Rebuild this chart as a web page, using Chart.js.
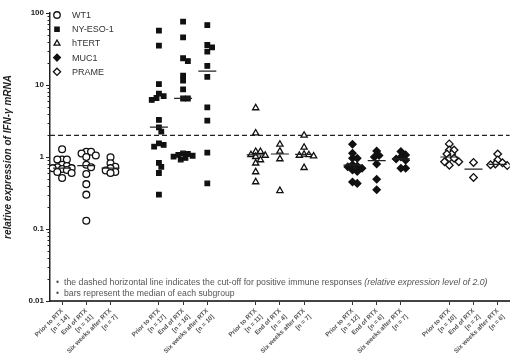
<!DOCTYPE html>
<html><head><meta charset="utf-8">
<script src="https://cdn.jsdelivr.net/npm/chart.js@4"></script>
<style>html,body{margin:0;padding:0;background:#fff}#wrap{width:520px;height:360px;position:relative}</style>
</head><body><div id="wrap"><canvas id="c"></canvas></div>
<script>
const antigens = ['WT1', 'NY-ESO-1', 'hTERT', 'MUC1', 'PRAME'];
const timepoints = ['Prior to RTX', 'End of RTX', 'Six weeks after RTX'];
const groupN = [[14, 11, 7], [17, 16, 10], [11, 4, 7], [12, 6, 7], [10, 2, 6]];
const yTickValues = [0.01, 0.1, 1, 10, 100];
const yTickLabels = ['0.01', '0.1', '1', '10', '100'];
const cutoff = 2.0;

const wt1 = [
  [1.28, 0.92, 0.92, 0.92, 0.78, 0.75, 0.72, 0.70, 0.70, 0.68, 0.66, 0.62, 0.60, 0.51],
  [1.18, 1.18, 1.12, 1.05, 1.0, 0.78, 0.72, 0.58, 0.42, 0.30, 0.13],
  [0.99, 0.82, 0.73, 0.70, 0.65, 0.62, 0.60]
];
const nyeso1 = [
  [56.8, 35.2, 10.3, 7.6, 7.0, 6.6, 6.2, 3.27, 2.58, 2.25, 1.55, 1.47, 1.39, 0.83, 0.73, 0.60, 0.30],
  [75.7, 45.9, 23.5, 21.5, 13.5, 11.5, 8.7, 6.5, 6.5, 1.12, 1.10, 1.07, 1.04, 1.01, 0.97, 0.92],
  [68, 35.9, 33.3, 29.0, 18.4, 13.0, 4.9, 3.2, 1.15, 0.43]
];
const htert = [
  [4.8, 2.15, 1.19, 1.19, 1.07, 1.05, 1.01, 0.91, 0.82, 0.62, 0.45],
  [1.5, 1.2, 0.94, 0.34],
  [2.0, 1.36, 1.09, 1.07, 1.05, 1.03, 0.71]
];
const muc1 = [
  [1.50, 1.13, 0.96, 0.96, 0.78, 0.75, 0.73, 0.70, 0.66, 0.63, 0.45, 0.43],
  [1.21, 1.05, 1.0, 0.80, 0.49, 0.35],
  [1.19, 1.07, 1.0, 0.94, 0.90, 0.70, 0.70]
];
const prame = [
  [1.52, 1.25, 1.25, 1.10, 1.10, 0.96, 0.96, 0.86, 0.86, 0.77],
  [0.84, 0.52],
  [1.10, 0.91, 0.83, 0.80, 0.78, 0.76]
];
const medians = [
  [0.70, 0.76, 0.70],
  [2.6, 6.5, 15.6],
  [1.07, 1.10, 1.09],
  [0.77, 0.89, 0.94],
  [1.0, 0.68, 0.79]
];
const seriesValues = [wt1, nyeso1, htert, muc1, prame];

const noteLines = [
  [['the dashed horizontal line indicates the cut-off for positive immune responses ', 'normal'], ['(relative expression level of 2.0)', 'italic']],
  [['bars represent the median of each subgroup', 'normal']]
];

// ---- styling / layout ----
const styles = [
  { pointStyle: 'circle', fill: '#fff', radius: 3.4 },
  { pointStyle: 'rect', fill: '#111', radius: 3.2 },
  { pointStyle: 'triangle', fill: '#fff', radius: 3.6 },
  { pointStyle: 'rectRot', fill: '#111', radius: 3.6 },
  { pointStyle: 'rectRot', fill: '#fff', radius: 3.8 }
];
const SLOT = 4;
const posOf = (a, t) => a * SLOT + t;
const PX_PER_DECADE = 72, PX_PER_UNIT = 24.4, MIN_D = 4.6, STEP = 2.4, MAX_STEPS = 4;

function swarm(vals, center) {
  const placed = [];
  const order = vals.map((v, i) => i).sort((a, b) => vals[b] - vals[a]);
  const out = new Array(vals.length);
  const cands = [0];
  for (let s = 1; s <= MAX_STEPS; s++) cands.push(s * STEP, -s * STEP);
  for (const i of order) {
    const y = Math.log10(vals[i]) * PX_PER_DECADE;
    let xoff = null, best = 0, bestD = -1;
    for (const c of cands) {
      const d = placed.length ? Math.min(...placed.map(p => Math.hypot(p.x - c, p.y - y))) : Infinity;
      if (d >= MIN_D) { xoff = c; break; }
      if (d > bestD) { bestD = d; best = c; }
    }
    if (xoff === null) xoff = best;
    placed.push({ x: xoff, y });
    out[i] = { x: center + xoff / PX_PER_UNIT, y: vals[i] };
  }
  return out;
}

const datasets = [];
antigens.forEach((name, a) => {
  let pts = [];
  seriesValues[a].forEach((vals, t) => { pts = pts.concat(swarm(vals, posOf(a, t))); });
  datasets.push({
    type: 'scatter', label: name, data: pts,
    pointStyle: styles[a].pointStyle, pointRadius: styles[a].radius, pointHoverRadius: styles[a].radius,
    pointBackgroundColor: styles[a].fill, pointBorderColor: '#111', pointBorderWidth: 1.3
  });
});
const medPts = [];
medians.forEach((row, a) => row.forEach((m, t) => medPts.push({ x: posOf(a, t), y: m })));
datasets.unshift({
  type: 'scatter', label: 'median', data: medPts, pointStyle: 'line', pointRadius: 9,
  pointBorderColor: '#222', pointBorderWidth: 1.2
});
datasets.push({
  type: 'line', label: 'cutoff', data: [{ x: -0.5, y: cutoff }, { x: 18.5, y: cutoff }],
  borderColor: '#222', borderWidth: 1.3, borderDash: [5, 3], pointRadius: 0, fill: false
});

const tickPositions = [];
const tickLabelMap = {};
antigens.forEach((n, a) => timepoints.forEach((tp, t) => {
  const p = posOf(a, t);
  tickPositions.push(p);
  tickLabelMap[p] = [tp, '[n = ' + groupN[a][t] + ']'];
}));

const extras = {
  id: 'extras',
  afterDraw(chart) {
    const ctx = chart.ctx, y = chart.scales.y, ca = chart.chartArea;
    ctx.save();
    // minor log ticks
    ctx.strokeStyle = '#222'; ctx.lineWidth = 1;
    for (let e = -2; e < 2; e++) for (let m = 2; m <= 9; m++) {
      const py = Math.round(y.getPixelForValue(m * Math.pow(10, e))) + 0.5;
      ctx.beginPath(); ctx.moveTo(ca.left - 2.5, py); ctx.lineTo(ca.left, py); ctx.stroke();
    }
    // legend
    const lx = ca.left + 7, ly0 = ca.top + 2, dy = 14.2;
    ctx.font = '9px "Liberation Sans", Arial, sans-serif';
    ctx.textBaseline = 'middle'; ctx.textAlign = 'left';
    antigens.forEach((name, a) => {
      const py = ly0 + a * dy;
      ctx.fillStyle = styles[a].fill; ctx.strokeStyle = '#111'; ctx.lineWidth = 1.3;
      Chart.helpers.drawPoint(ctx, { pointStyle: styles[a].pointStyle, radius: styles[a].radius * 0.95, rotation: 0, borderWidth: 1.3 }, lx, py);
      ctx.fillStyle = '#333';
      ctx.fillText(name, lx + 15, py + 0.5);
    });
    // notes
    const nx = ca.left + 14, targetW = [424, 171], ny = [283, 294];
    noteLines.forEach((parts, i) => {
      let w = 0;
      parts.forEach(p => { ctx.font = p[1] + ' 8px "Liberation Sans", Arial, sans-serif'; w += ctx.measureText(p[0]).width; });
      const size = 8 * targetW[i] / w;
      ctx.fillStyle = '#555';
      ctx.font = size + 'px "Liberation Sans", Arial, sans-serif';
      ctx.fillText('•', ca.left + 6, ny[i]);
      let x = nx;
      parts.forEach(p => {
        ctx.font = p[1] + ' ' + size + 'px "Liberation Sans", Arial, sans-serif';
        ctx.fillText(p[0], x, ny[i]);
        x += ctx.measureText(p[0]).width;
      });
    });
    ctx.restore();
  }
};

new Chart(document.getElementById('c'), {
  data: { datasets },
  options: {
    responsive: true, maintainAspectRatio: false, animation: false,
    layout: { padding: { top: 13, right: 7, left: 0, bottom: 0 } },
    plugins: { legend: { display: false }, tooltip: { enabled: false } },
    scales: {
      x: {
        type: 'linear', min: -0.5, max: 18.5,
        afterBuildTicks: s => { s.ticks = tickPositions.map(v => ({ value: v })); },
        afterFit: s => { s.height = 59; },
        ticks: {
          autoSkip: false, minRotation: 45, maxRotation: 45, padding: 2,
          font: { size: 6.3, weight: 'bold', family: '"Liberation Sans", Arial, sans-serif', lineHeight: 1.3 },
          color: '#555', callback: v => tickLabelMap[v] || ''
        },
        grid: { drawOnChartArea: false, drawTicks: true, tickLength: 4, color: '#333', lineWidth: 1 },
        border: { color: '#444', width: 2 }
      },
      y: {
        type: 'logarithmic', min: 0.01, max: 100,
        afterBuildTicks: s => { s.ticks = yTickValues.map(v => ({ value: v, major: true })); },
        afterFit: s => { s.width = 50; },
        ticks: {
          padding: 2, color: '#222',
          font: { size: 8, weight: 'bold', family: '"Liberation Sans", Arial, sans-serif' },
          callback: v => { const i = yTickValues.indexOf(v); return i >= 0 ? yTickLabels[i] : ''; }
        },
        grid: { drawOnChartArea: false, drawTicks: true, tickLength: 4, color: '#222', lineWidth: 1 },
        border: { color: '#222', width: 1.5 },
        title: {
          display: true, text: 'relative expression of IFN-γ mRNA', color: '#222', padding: { top: 2, bottom: 0 },
          font: { size: 10, weight: 'bold', style: 'italic', family: '"Liberation Sans", Arial, sans-serif' }
        }
      }
    }
  },
  plugins: [extras]
});
</script>
</body></html>
